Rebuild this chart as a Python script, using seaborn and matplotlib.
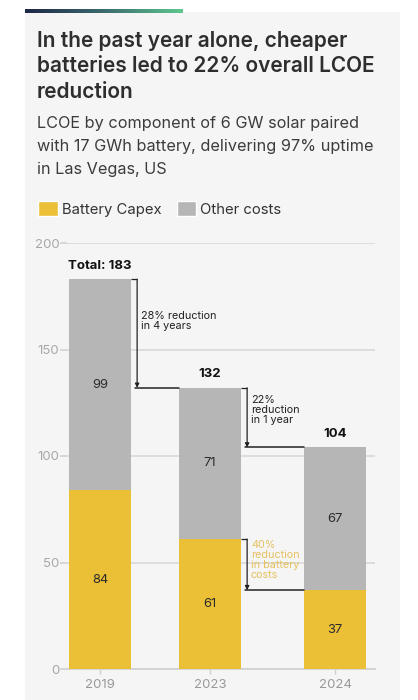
import numpy as np
import pandas as pd
import matplotlib
matplotlib.use("Agg")
import matplotlib.pyplot as plt
from matplotlib.patches import Rectangle, Patch
from matplotlib.colors import LinearSegmentedColormap
import seaborn as sns

# data
years = ["2019", "2023", "2024"]
battery_capex = [84, 61, 37]
other_costs = [99, 71, 67]
total_labels = ["Total: 183", "132", "104"]
y_ticks = [0, 50, 100, 150, 200]

# bar slots on the x axis (layout only, the source spaces them unevenly)
slots = [0, 0.88, 1.88]

YELLOW = "#ebbf36"
GREY = "#b6b6b6"
PANEL = "#f5f5f5"
DARK = "#2b2b2b"

sns.set_theme(style="white")
plt.rcParams["font.family"] = ["Inter", "DejaVu Sans"]

df = pd.DataFrame({"year": years, "slot": slots,
                   "battery": battery_capex, "other": other_costs})
df["total"] = df["battery"] + df["other"]

fig = plt.figure(figsize=(4.18, 7.0), dpi=100)
fig.patch.set_facecolor("white")

# light panel behind everything
fig.patches.append(Rectangle((25 / 418, 0), 375 / 418, 1 - 12 / 700,
                             transform=fig.transFigure, facecolor=PANEL,
                             edgecolor="none", zorder=-10))

# gradient strip on top
gax = fig.add_axes([25 / 418, 1 - 13 / 700, 158 / 418, 4 / 700])
cmap = LinearSegmentedColormap.from_list("strip", ["#1d2747", "#3b6b6e", "#5ec78f"])
gax.imshow(np.linspace(0, 1, 256)[None, :], aspect="auto", cmap=cmap)
gax.axis("off")

# title + subtitle
fig.text(37 / 418, 1 - 31 / 700,
         "In the past year alone, cheaper\nbatteries led to 22% overall LCOE\nreduction",
         fontsize=15, fontweight="semibold", color="#2e2e2e", va="top", ha="left",
         linespacing=1.33)
fig.text(37 / 418, 1 - 116 / 700,
         "LCOE by component of 6 GW solar paired\nwith 17 GWh battery, delivering 97% uptime\nin Las Vegas, US",
         fontsize=11.7, color="#3c3c3c", va="top", ha="left", linespacing=1.68)

ax = fig.add_axes([67 / 418, 1 - 669 / 700, (375 - 67) / 418, (669 - 243) / 700])
ax.set_facecolor(PANEL)
ax.set_zorder(1)

bw = 0.5727  # relative to the smallest slot gap
sns.barplot(data=df, x="slot", y="total", color=GREY, width=bw, saturation=1,
            native_scale=True, ax=ax, zorder=3, linewidth=0)
sns.barplot(data=df, x="slot", y="battery", color=YELLOW, width=bw, saturation=1,
            native_scale=True, ax=ax, zorder=4, linewidth=0)
half = bw * min(np.diff(slots)) / 2

ax.set_ylim(0, 200)
ax.set_xlim(-0.264, 2.2)
ax.set_yticks(y_ticks)
ax.set_xticks(slots, years)
ax.grid(axis="y", color="#d9d9d9", linewidth=1.2, zorder=0)
ax.grid(axis="x", visible=False)
ax.set_axisbelow(True)
for s in ["top", "right", "left"]:
    ax.spines[s].set_visible(False)
ax.spines["bottom"].set_color("#cfcfcf")
ax.spines["bottom"].set_linewidth(1.2)
ax.tick_params(axis="y", left=True, length=5, color="#cfcfcf", width=1.1,
               labelcolor="#a8a8a8", labelsize=9.5, pad=0.5)
ax.tick_params(axis="x", bottom=True, length=3.5, color="#cfcfcf", width=1,
               labelcolor="#999999", labelsize=9.5, pad=4)
ax.set_xlabel("")
ax.set_ylabel("")

# segment values and totals
for x, b, o, t in zip(df["slot"], df["battery"], df["other"], total_labels):
    ax.text(x, b / 2, str(b), ha="center", va="center", fontsize=9.3, color=DARK, zorder=5)
    ax.text(x, b + o / 2, str(o), ha="center", va="center", fontsize=9.3, color=DARK, zorder=5)
    ax.text(x, b + o + 3.5, t, ha="center", va="bottom", fontsize=9.5,
            fontweight="bold", color="#111111", zorder=5)


def bracket(i, top, low, label, color, text_y):
    x0 = slots[i] + half
    xb = x0 + 0.045
    ax.plot([x0, xb], [top, top], color="#222222", lw=0.9, zorder=5,
            solid_capstyle="butt")
    ax.annotate("", xy=(xb, low), xytext=(xb, top),
                arrowprops=dict(arrowstyle="-|>", lw=0.9, color="#222222",
                                mutation_scale=6, shrinkA=0, shrinkB=0), zorder=5)
    ax.plot([xb - 0.02, slots[i + 1] - half], [low, low], color="#222222", lw=1.1, zorder=5)
    ax.text(xb + 0.03, text_y, label, ha="left", va="top",
            fontsize=7.8, color=color, linespacing=1.0, zorder=6)


totals = list(df["total"])
bracket(0, totals[0], totals[1], "28% reduction\nin 4 years", "#222222", 168)
bracket(1, totals[1], totals[2], "22%\nreduction\nin 1 year", "#222222", 128.5)
bracket(1, battery_capex[1], battery_capex[2], "40%\nreduction\nin battery\ncosts",
        "#e6c160", 60.5)

# legend
handles = [Patch(facecolor=YELLOW, label="Battery Capex"),
           Patch(facecolor=GREY, label="Other costs")]
fig.legend(handles=handles, loc="upper left", bbox_to_anchor=(25 / 418, 1 - 188 / 700),
           ncol=2, frameon=False, fontsize=10.7, handlelength=1.3, handleheight=1.1,
           handletextpad=0.3, columnspacing=1.0, labelcolor="#333333")

fig.savefig("out.png", dpi=100, facecolor="white")
